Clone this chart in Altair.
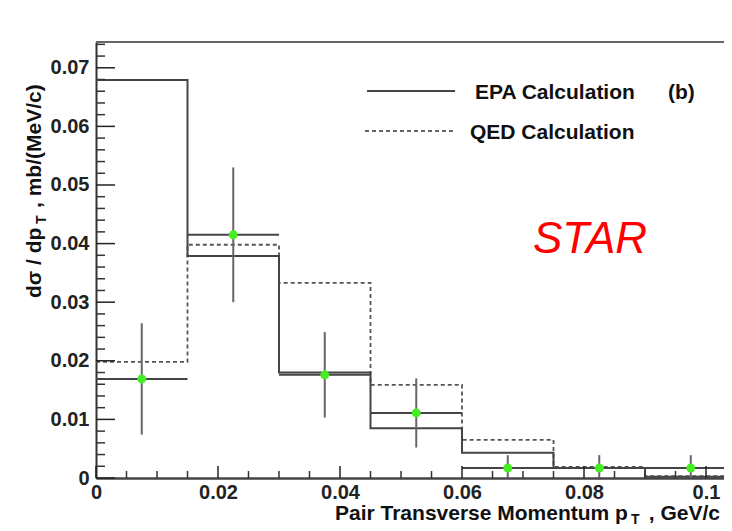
import altair as alt
import pandas as pd

# ---- data ----
bin_lo = [0.0, 0.015, 0.03, 0.045, 0.06, 0.075, 0.09]
bin_hi = [0.015, 0.03, 0.045, 0.06, 0.075, 0.09, 0.105]
epa = [0.0679, 0.0379, 0.0180, 0.0085, 0.0043, 0.0017, 0.0002]
qed = [0.0198, 0.0398, 0.0333, 0.0159, 0.0065, 0.0019, 0.0003]
data_x = [0.0075, 0.0225, 0.0375, 0.0525, 0.0675, 0.0825, 0.0975]
data_y = [0.0169, 0.0415, 0.0176, 0.0111, 0.0017, 0.0017, 0.0017]
data_err = [0.0095, 0.0115, 0.0073, 0.0059, 0.0022, 0.0022, 0.0022]
x_major = [0.0, 0.02, 0.04, 0.06, 0.08, 0.1]
y_major = [0.0, 0.01, 0.02, 0.03, 0.04, 0.05, 0.06, 0.07]
x_minor = [round(i * 0.005, 4) for i in range(21) if i % 4 != 0]
y_minor = [round(i * 0.002, 4) for i in range(38) if i % 5 != 0]

W, H = 628, 436
X_MAX, Y_MAX = 0.10295, 0.0744
FONT = "Liberation Sans"

xs = alt.Scale(domain=[0, X_MAX], nice=False, zero=False)
ys = alt.Scale(domain=[0, Y_MAX], nice=False)


def steps(vals, name):
    rows = []
    for i, v in enumerate(vals):
        rows.append({"x": bin_lo[i], "y": v, "o": 2 * i, "s": name})
        rows.append({"x": bin_hi[i], "y": v, "o": 2 * i + 1, "s": name})
    return pd.DataFrame(rows)


pts = pd.DataFrame({
    "x": data_x, "y": data_y,
    "lo": [max(0.0, y - e) for y, e in zip(data_y, data_err)],
    "hi": [y + e for y, e in zip(data_y, data_err)],
    "xl": bin_lo, "xh": bin_hi,
})

x_axis = alt.Axis(values=x_major, format=".2~f", ticks=False, grid=False, title=None,
                  labelFont=FONT, labelFontSize=20, labelFontWeight="bold", labelColor="#222",
                  labelPadding=4, domainColor="#444", domainWidth=2.5, labelFlush=False)
y_axis = alt.Axis(values=y_major, format=".2~f", ticks=False, grid=False, title=None,
                  labelFont=FONT, labelFontSize=20, labelFontWeight="bold", labelColor="#222",
                  labelPadding=7, domainColor="#333", domainWidth=2, labelFlush=False)


def X(f):
    return alt.X(f, scale=xs, axis=x_axis)


def Y(f):
    return alt.Y(f, scale=ys, axis=y_axis)


qed_line = alt.Chart(steps(qed, "QED")).mark_line(
    color="#555", strokeWidth=1.8, strokeDash=[4, 3], clip=True
).encode(x=X("x:Q"), y=Y("y:Q"), order="o:Q")

epa_line = alt.Chart(steps(epa, "EPA")).mark_line(
    color="#444", strokeWidth=2, clip=True
).encode(x=X("x:Q"), y=Y("y:Q"), order="o:Q")

err_v = alt.Chart(pts).mark_rule(color="#666", strokeWidth=2, clip=True).encode(
    x=X("x:Q"), y=Y("lo:Q"), y2="hi:Q")
err_h = alt.Chart(pts).mark_rule(color="#444", strokeWidth=2, clip=True).encode(
    x=X("xl:Q"), x2="xh:Q", y=Y("y:Q"))
dots = alt.Chart(pts).mark_circle(color="#44ee22", opacity=1, size=80, clip=True).encode(
    x=X("x:Q"), y=Y("y:Q"))

# inward ticks
ytm = alt.Chart(pd.DataFrame({"v": y_major})).mark_rule(color="#222", strokeWidth=1.5).encode(
    y=Y("v:Q"), x=alt.value(0), x2=alt.value(19))
ytn = alt.Chart(pd.DataFrame({"v": y_minor})).mark_rule(color="#333", strokeWidth=1.5).encode(
    y=Y("v:Q"), x=alt.value(0), x2=alt.value(9))
xtm = alt.Chart(pd.DataFrame({"v": x_major})).mark_rule(color="#222", strokeWidth=1.5).encode(
    x=X("v:Q"), y=alt.value(H), y2=alt.value(H - 12))
xtn = alt.Chart(pd.DataFrame({"v": x_minor})).mark_rule(color="#333", strokeWidth=1.5).encode(
    x=X("v:Q"), y=alt.value(H), y2=alt.value(H - 7))
top = alt.Chart(pd.DataFrame({"a": [0]})).mark_rule(color="#666", strokeWidth=2).encode(
    x=alt.value(0), x2=alt.value(W), y=alt.value(0))

one = pd.DataFrame({"a": [0]})


def txt(s, x, y, size=21, weight="bold", style="normal", color="#111", align="left",
        baseline="middle", angle=0):
    kw = dict(text=s, font=FONT, fontSize=size, fontWeight=weight, fontStyle=style,
              color=color, align=align, baseline=baseline)
    if angle:
        kw["angle"] = angle
    return alt.Chart(one).mark_text(**kw).encode(x=alt.value(x), y=alt.value(y))


leg_solid = alt.Chart(one).mark_rule(color="#444", strokeWidth=1.8).encode(
    x=alt.value(271), x2=alt.value(359), y=alt.value(49))
leg_dash = alt.Chart(one).mark_rule(color="#666", strokeWidth=1.8, strokeDash=[4, 3]).encode(
    x=alt.value(269), x2=alt.value(357), y=alt.value(89))

texts = [
    txt("EPA Calculation", 379, 51),
    txt("QED Calculation", 374, 91),
    txt("(b)", 572, 51),
    txt("STAR", 437, 211, size=44, weight="normal", style="italic", color="#ff0000",
        baseline="alphabetic"),
    # y title
    txt("dσ / dp", -61, 256, size=21, angle=270),
    txt("T", -54, 182, size=14, angle=270),
    txt(", mb/(MeV/c)", -61, 166, size=21, angle=270),
    # x title
    txt("Pair Transverse Momentum p", 239, 478, size=21, baseline="alphabetic"),
    txt("T", 535, 482, size=14, baseline="alphabetic"),
    txt(" , GeV/c", 624, 478, size=21, align="right", baseline="alphabetic"),
]

chart = alt.layer(
    qed_line, epa_line, err_v, err_h, dots, ytm, ytn, xtm, xtn, top,
    leg_solid, leg_dash, *texts
).properties(
    width=W, height=H, autosize="none",
    padding={"left": 88, "top": 34, "right": 0, "bottom": 51},
    background="white",
).configure_view(stroke=None)

chart.save("out.html", embed_options={"renderer": "svg", "actions": False})
